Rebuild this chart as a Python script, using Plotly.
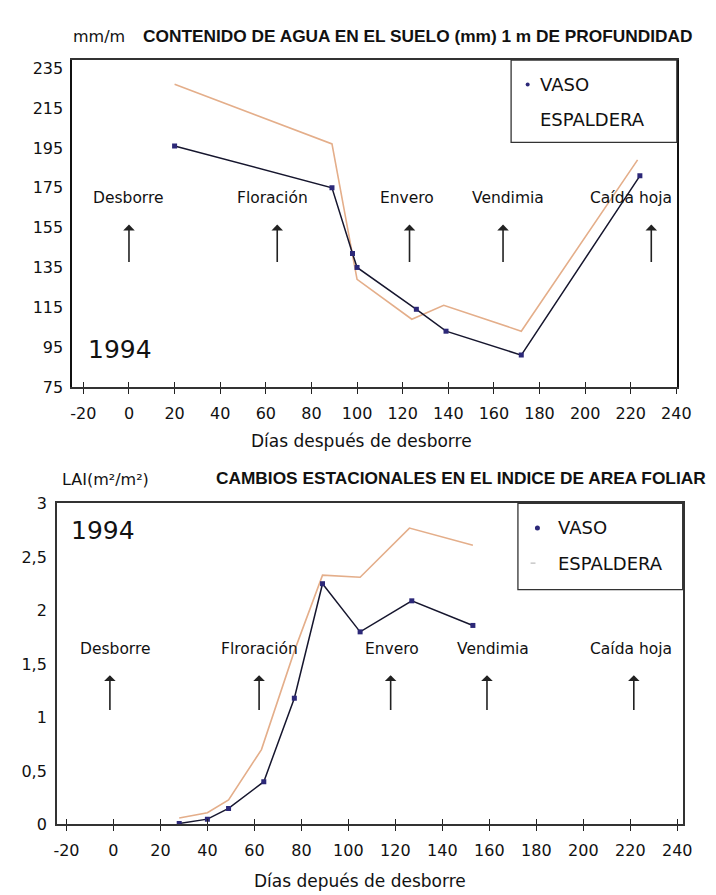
import plotly.graph_objects as go

# ---------------- data ----------------
# Top chart: soil water content (mm in 1 m depth)
vaso_days_water = [20, 89, 98, 100, 126, 139, 172, 224]
vaso_water = [196, 175, 142, 135, 114, 103, 91, 181]
esp_days_water = [20, 89, 100, 124, 138, 172, 223]
esp_water = [227, 197, 129, 109, 116, 103, 189]

# Bottom chart: leaf area index
vaso_days_lai = [28, 40, 49, 64, 77, 89, 105, 127, 153]
vaso_lai = [0.01, 0.05, 0.15, 0.40, 1.18, 2.25, 1.80, 2.09, 1.86]
esp_days_lai = [28, 40, 49, 63, 77, 89, 105, 126, 153]
esp_lai = [0.06, 0.11, 0.23, 0.70, 1.62, 2.33, 2.31, 2.77, 2.61]

# Phenological stages (label x, arrow x) per chart
stages_top = ["Desborre", "Floración", "Envero", "Vendimia", "Caída hoja"]
stage_text_x_top = [0, 63, 122, 166, 220]
stage_arrow_x_top = [0, 65, 123, 164, 229]
stages_bot = ["Desborre", "Flroración", "Envero", "Vendimia", "Caída hoja"]
stage_text_x_bot = [1, 62, 118.5, 161.5, 220.5]
stage_arrow_x_bot = [-1.5, 62, 118, 159, 221.5]

x_ticks = list(range(-20, 241, 20))
x_ticktext = [str(v) for v in x_ticks]          # plain hyphen "-20"
y_ticks_top = list(range(75, 236, 20))
y_ticks_bot = [0, 0.5, 1, 1.5, 2, 2.5, 3]
y_ticktext_bot = ["0", "0,5", "1", "1,5", "2", "2,5", "3"]

W, H = 716, 895
VASO_LINE = "#16162e"
VASO_MARK = "#2c2878"
ESP_LINE = "#e4ae8a"
FONT = "DejaVu Sans"
TITLE_FONT = "Liberation Sans"


def px(x):
    return x / W


def py(y):
    return 1 - y / H


fig = go.Figure()

# ---- traces ----
fig.add_trace(go.Scatter(x=esp_days_water, y=esp_water, mode="lines",
                         line=dict(color=ESP_LINE, width=1.6),
                         xaxis="x", yaxis="y", showlegend=False, name="ESPALDERA"))
fig.add_trace(go.Scatter(x=vaso_days_water, y=vaso_water, mode="lines+markers",
                         line=dict(color=VASO_LINE, width=1.5),
                         marker=dict(color=VASO_MARK, size=5, symbol="square"),
                         xaxis="x", yaxis="y", showlegend=False, name="VASO"))
fig.add_trace(go.Scatter(x=esp_days_lai, y=esp_lai, mode="lines",
                         line=dict(color=ESP_LINE, width=1.6),
                         xaxis="x2", yaxis="y2", showlegend=False, name="ESPALDERA"))
fig.add_trace(go.Scatter(x=vaso_days_lai, y=vaso_lai, mode="lines+markers",
                         line=dict(color=VASO_LINE, width=1.5),
                         marker=dict(color=VASO_MARK, size=5, symbol="square"),
                         xaxis="x2", yaxis="y2", showlegend=False, name="VASO"))
# empty traces to activate overlay tick axes
fig.add_trace(go.Scatter(x=[None], y=[None], xaxis="x3", yaxis="y", showlegend=False, hoverinfo="skip"))
fig.add_trace(go.Scatter(x=[None], y=[None], xaxis="x4", yaxis="y2", showlegend=False, hoverinfo="skip"))

top_xdom = [px(63), px(683)]
top_ydom = [py(378), py(44)]
bot_xdom = [px(47), px(689)]
bot_ydom = [py(825), py(497)]

top_xr = [-24.8, 240.2]
top_yr = [75, 239.1]
bot_xr = [-24.1, 242.3]
bot_yr = [0, 3]

tickfont = dict(family=FONT, size=16, color="#111")

fig.update_layout(
    width=W, height=H,
    margin=dict(l=0, r=0, t=0, b=0),
    paper_bgcolor="white", plot_bgcolor="white",
    showlegend=False,
    xaxis=dict(domain=top_xdom, range=top_xr, anchor="y", tickvals=x_ticks, ticktext=x_ticktext,
               ticks="outside", ticklen=5, tickwidth=1.3, tickcolor="#222",
               showline=True, linecolor="#333", linewidth=1.5, mirror=True,
               showgrid=False, zeroline=False, tickfont=tickfont, ticklabelstandoff=6),
    xaxis3=dict(overlaying="x", range=top_xr, anchor="y", side="bottom", tickvals=x_ticks,
                ticks="inside", ticklen=5, tickwidth=1.3, tickcolor="#222",
                showticklabels=False, showline=False, showgrid=False, zeroline=False),
    yaxis=dict(domain=top_ydom, range=top_yr, anchor="x", tickvals=y_ticks_top,
               ticks="", showline=True, linecolor="#111", linewidth=2, mirror=True,
               showgrid=False, zeroline=False, tickfont=tickfont, ticklabelstandoff=4),
    xaxis2=dict(domain=bot_xdom, range=bot_xr, anchor="y2", tickvals=x_ticks, ticktext=x_ticktext,
                ticks="outside", ticklen=5, tickwidth=1.3, tickcolor="#222",
                showline=True, linecolor="#333", linewidth=1.5, mirror=True,
                showgrid=False, zeroline=False, tickfont=tickfont, ticklabelstandoff=6),
    xaxis4=dict(overlaying="x2", range=bot_xr, anchor="y2", side="bottom", tickvals=x_ticks,
                ticks="inside", ticklen=5, tickwidth=1.3, tickcolor="#222",
                showticklabels=False, showline=False, showgrid=False, zeroline=False),
    yaxis2=dict(domain=bot_ydom, range=bot_yr, anchor="x2", tickvals=y_ticks_bot,
                ticktext=y_ticktext_bot, ticks="", showline=True, linecolor="#333",
                linewidth=1.5, mirror=True, showgrid=False, zeroline=False,
                tickfont=tickfont, ticklabelstandoff=5),
)

ann = []


def paper_text(text, x, y, size, anchor="center", bold=False, family=FONT):
    ann.append(dict(text=("<b>%s</b>" % text) if bold else text, x=px(x), y=py(y),
                    xref="paper", yref="paper", xanchor=anchor, yanchor="middle",
                    showarrow=False, font=dict(family=family, size=size, color="#111")))


# titles & axis labels
paper_text("mm/m", 90, 20, 16)
paper_text("CONTENIDO DE AGUA EN EL SUELO (mm) 1 m DE PROFUNDIDAD", 418, 19, 17.3,
           bold=True, family=TITLE_FONT)
paper_text("Días después de desborre", 360, 433, 17)
paper_text("LAI(m²/m²)", 97, 473, 16)
paper_text("CAMBIOS ESTACIONALES EN EL INDICE DE AREA FOLIAR", 462, 471, 17.3,
           bold=True, family=TITLE_FONT)
paper_text("Días depués de desborre", 358, 883, 17)

# legends (manual, as in the original)
paper_text("VASO", 541, 69, 18, anchor="left")
paper_text("ESPALDERA", 541, 105, 18, anchor="left")
paper_text("VASO", 559, 522, 18, anchor="left")
paper_text("ESPALDERA", 559, 558, 18, anchor="left")

# year labels
ann.append(dict(text="1994", x=-4, y=94, xref="x", yref="y", showarrow=False,
                font=dict(family=FONT, size=25, color="#111")))
ann.append(dict(text="1994", x=-4.5, y=2.745, xref="x2", yref="y2", showarrow=False,
                font=dict(family=FONT, size=25, color="#111")))

# phenological stage labels & arrows
for name, tx, axx in zip(stages_top, stage_text_x_top, stage_arrow_x_top):
    ann.append(dict(text=name, x=tx, y=170, xref="x", yref="y", showarrow=False,
                    font=dict(family=FONT, size=15.5, color="#111")))
    ann.append(dict(text="", x=axx, y=156.5, ax=axx, ay=137, xref="x", yref="y",
                    axref="x", ayref="y", showarrow=True, arrowhead=1, arrowsize=1.2,
                    arrowwidth=1.6, arrowcolor="#222"))
for name, tx, axx in zip(stages_bot, stage_text_x_bot, stage_arrow_x_bot):
    ann.append(dict(text=name, x=tx, y=1.64, xref="x2", yref="y2", showarrow=False,
                    font=dict(family=FONT, size=15.5, color="#111")))
    ann.append(dict(text="", x=axx, y=1.395, ax=axx, ay=1.055, xref="x2", yref="y2",
                    axref="x2", ayref="y2", showarrow=True, arrowhead=1, arrowsize=1.2,
                    arrowwidth=1.6, arrowcolor="#222"))

fig.update_layout(annotations=ann)

shapes = [
    # legend boxes
    dict(type="rect", xref="paper", yref="paper", x0=px(513), x1=px(683), y0=py(128), y1=py(44),
         line=dict(color="#333", width=1.3), fillcolor="white", layer="above"),
    dict(type="rect", xref="paper", yref="paper", x0=px(520), x1=px(689), y0=py(585), y1=py(497),
         line=dict(color="#333", width=1.3), fillcolor="white", layer="above"),
    # legend symbols
    dict(type="circle", xref="paper", yref="paper", xsizemode="pixel", ysizemode="pixel",
         xanchor=px(530), yanchor=py(69), x0=-2, x1=2, y0=-2, y1=2,
         fillcolor=VASO_MARK, line=dict(width=0)),
    dict(type="circle", xref="paper", yref="paper", xsizemode="pixel", ysizemode="pixel",
         xanchor=px(540), yanchor=py(522), x0=-2.5, x1=2.5, y0=-2.5, y1=2.5,
         fillcolor=VASO_MARK, line=dict(width=0)),
    dict(type="line", xref="paper", yref="paper", x0=px(533), x1=px(538), y0=py(558), y1=py(558),
         line=dict(color="#c8c8c8", width=1.5)),
]
fig.update_layout(shapes=shapes)

fig.write_html("out.html")
